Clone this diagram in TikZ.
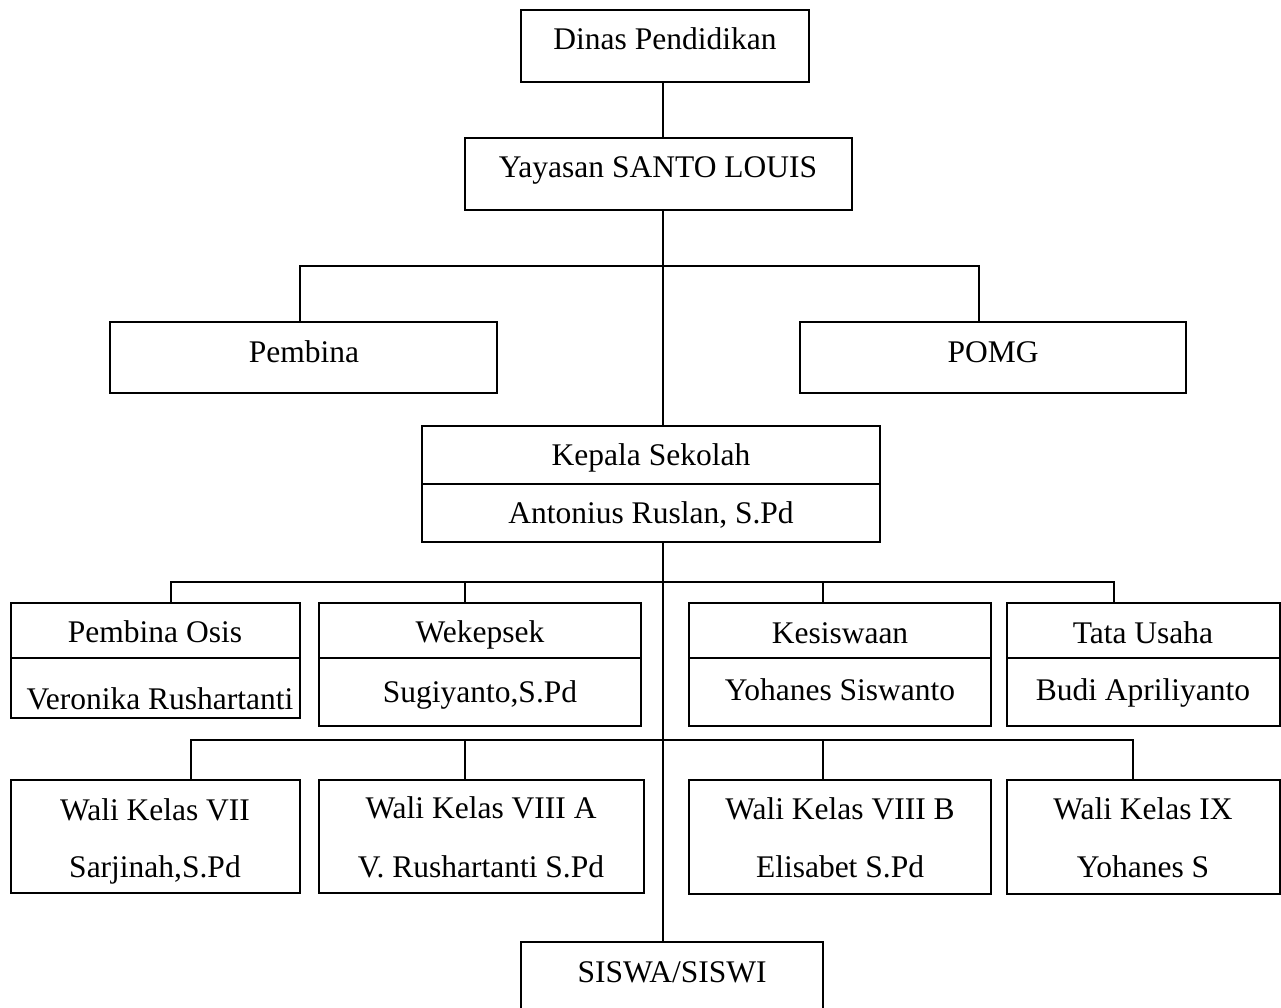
\documentclass[tikz,border=0pt]{standalone}
\usepackage{fontspec}
\setmainfont{Liberation Serif}
\begin{document}
\begin{tikzpicture}[x=1pt,y=-1pt,
  box/.style={draw=black, line width=2pt, inner sep=0pt, outer sep=0pt, anchor=north west},
  lbl/.style={inner sep=0pt, anchor=base, font=\fontsize{31.5}{36}\selectfont},
  conn/.style={draw=black, line width=2pt},
  divider/.style={draw=black, line width=2pt}]
\useasboundingbox (0,0) rectangle (1281,1007);
\fill[white] (0,0) rectangle (1281,1007);
\clip (0,0) rectangle (1281,1007);

% boxes
\node[box, minimum width=288pt, minimum height=72pt] (dinas) at (521,10) {};
\node[box, minimum width=387pt, minimum height=72pt] (yay) at (465,138) {};
\node[box, minimum width=387pt, minimum height=71pt] (pembina) at (110,322) {};
\node[box, minimum width=386pt, minimum height=71pt] (pomg) at (800,322) {};
\node[box, minimum width=458pt, minimum height=116pt] (kepala) at (422,426) {};
\node[box, minimum width=289pt, minimum height=115pt] (posis) at (11,603) {};
\node[box, minimum width=322pt, minimum height=123pt] (wek) at (319,603) {};
\node[box, minimum width=302pt, minimum height=123pt] (kes) at (689,603) {};
\node[box, minimum width=273pt, minimum height=123pt] (tu) at (1007,603) {};
\node[box, minimum width=289pt, minimum height=113pt] (w7) at (11,780) {};
\node[box, minimum width=325pt, minimum height=113pt] (w8a) at (319,780) {};
\node[box, minimum width=302pt, minimum height=114pt] (w8b) at (689,780) {};
\node[box, minimum width=273pt, minimum height=114pt] (w9) at (1007,780) {};
\node[box, minimum width=302pt, minimum height=90pt] (siswa) at (521,942) {};

% dividers
\draw[divider] (kepala.west |- 0,484) -- (kepala.east |- 0,484);
\draw[divider] (posis.west |- 0,658) -- (posis.east |- 0,658);
\draw[divider] (wek.west |- 0,658) -- (wek.east |- 0,658);
\draw[divider] (kes.west |- 0,658) -- (kes.east |- 0,658);
\draw[divider] (tu.west |- 0,658) -- (tu.east |- 0,658);

% labels
\node[lbl] (tdinas) at (665,49) {Dinas Pendidikan};
\node[lbl] (tyay) at (658,177) {Yayasan SANTO LOUIS};
\node[lbl] (tpembina) at (304,362) {Pembina};
\node[lbl] (tpomg) at (993,362) {POMG};
\node[lbl] (tkep1) at (651,465) {Kepala Sekolah};
\node[lbl] (tkep2) at (651,523) {Antonius Ruslan, S.Pd};
\node[lbl] (tposis1) at (155,642) {Pembina Osis};
\node[lbl] (tposis2) at (160,709) {Veronika Rushartanti};
\node[lbl] (twek1) at (480,642) {Wekepsek};
\node[lbl] (twek2) at (480,702) {Sugiyanto,S.Pd};
\node[lbl] (tkes1) at (840,643) {Kesiswaan};
\node[lbl] (tkes2) at (840,700) {Yohanes Siswanto};
\node[lbl] (ttu1) at (1143,643) {Tata Usaha};
\node[lbl] (ttu2) at (1143,700) {Budi Apriliyanto};
\node[lbl] (tw71) at (155,820) {Wali Kelas VII};
\node[lbl] (tw72) at (155,877) {Sarjinah,S.Pd};
\node[lbl] (tw8a1) at (481,818) {Wali Kelas VIII A};
\node[lbl] (tw8a2) at (481,877) {V. Rushartanti S.Pd};
\node[lbl] (tw8b1) at (840,819) {Wali Kelas VIII B};
\node[lbl] (tw8b2) at (840,877) {Elisabet S.Pd};
\node[lbl] (tw91) at (1143,819) {Wali Kelas IX};
\node[lbl] (tw92) at (1143,877) {Yohanes S};
\node[lbl] (tsiswa) at (672,982) {SISWA/SISWI};

% connectors
\coordinate (spine) at (663,0);
\draw[conn] (dinas.south -| spine) -- (yay.north -| spine);
\draw[conn] (yay.south -| spine) -- (kepala.north -| spine);
\draw[conn] (kepala.south -| spine) -- (siswa.north -| spine);

\coordinate (j1L) at (300,266);
\coordinate (j1R) at (979,266);
\draw[conn] (pembina.north -| j1L) -- (j1L) -- (j1R) -- (pomg.north -| j1R);

\coordinate (j2a) at (171,582);
\coordinate (j2b) at (465,582);
\coordinate (j2c) at (823,582);
\coordinate (j2d) at (1114,582);
\draw[conn] (posis.north -| j2a) -- (j2a) -- (j2d) -- (tu.north -| j2d);
\draw[conn] (j2b) -- (wek.north -| j2b);
\draw[conn] (j2c) -- (kes.north -| j2c);

\coordinate (j3a) at (191,740);
\coordinate (j3b) at (465,740);
\coordinate (j3c) at (823,740);
\coordinate (j3d) at (1133,740);
\draw[conn] (w7.north -| j3a) -- (j3a) -- (j3d) -- (w9.north -| j3d);
\draw[conn] (j3b) -- (w8a.north -| j3b);
\draw[conn] (j3c) -- (w8b.north -| j3c);
\end{tikzpicture}
\end{document}
